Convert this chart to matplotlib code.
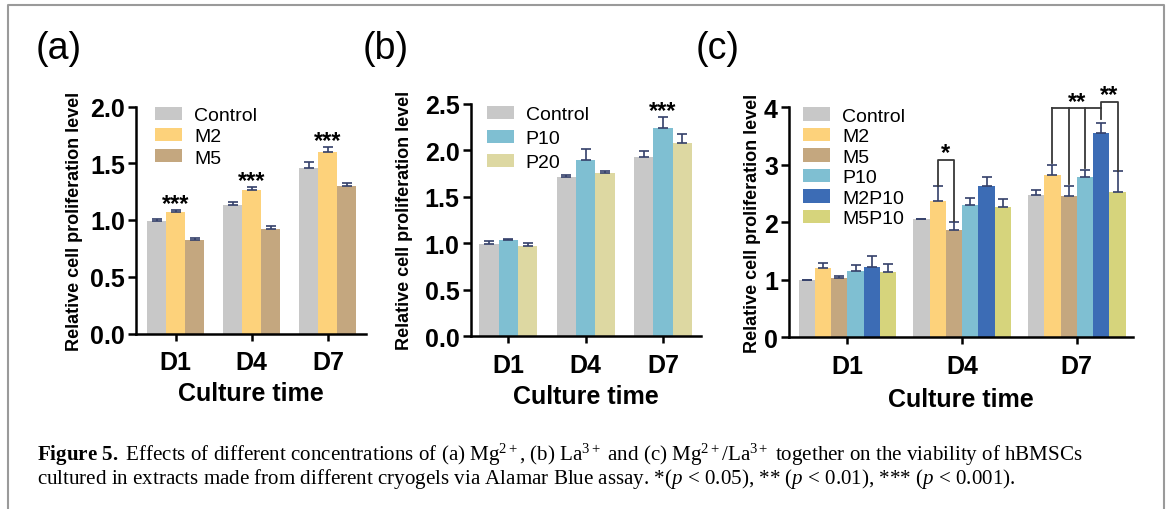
import numpy as np
import matplotlib.pyplot as plt
from matplotlib.lines import Line2D

plt.rcParams['font.family'] = 'Liberation Sans'
plt.rcParams['mathtext.fontset'] = 'custom'
plt.rcParams['mathtext.rm'] = 'Liberation Serif'
plt.rcParams['mathtext.it'] = 'Liberation Serif:italic'
plt.rcParams['mathtext.bf'] = 'Liberation Serif:bold'

days = ['D1', 'D4', 'D7']

# (a) Mg2+
a_names = ['Control', 'M2', 'M5']
a_mean = [[0.99, 1.13, 1.46], [1.07, 1.26, 1.60], [0.82, 0.92, 1.30]]
a_err = [[0.015, 0.03, 0.05], [0.015, 0.027, 0.04], [0.018, 0.027, 0.027]]
a_colors = ['#c8c8c8', '#fdd27b', '#c4a77f']
a_stars = ['***', '***', '***']   # over M2

# (b) La3+
b_names = ['Control', 'P10', 'P20']
b_mean = [[0.99, 1.71, 1.93], [1.03, 1.89, 2.24], [0.97, 1.75, 2.08]]
b_err = [[0.035, 0.02, 0.06], [0.02, 0.12, 0.11], [0.035, 0.02, 0.09]]
b_colors = ['#c8c8c8', '#7fbfd2', '#ddd8a2']
b_stars = ['', '', '***']          # over P10

# (c) Mg2+/La3+
c_names = ['Control', 'M2', 'M5', 'P10', 'M2P10', 'M5P10']
c_mean = [[1.00, 2.05, 2.47], [1.20, 2.37, 2.82], [1.03, 1.86, 2.46],
          [1.16, 2.30, 2.78], [1.23, 2.63, 3.56], [1.13, 2.27, 2.53]]
c_err = [[0.0, 0.015, 0.10], [0.09, 0.27, 0.18], [0.03, 0.145, 0.18],
         [0.10, 0.13, 0.13], [0.185, 0.16, 0.17], [0.15, 0.14, 0.36]]
c_colors = ['#c8c8c8', '#fdd27b', '#c4a77f', '#7fbfd2', '#3c6cb5', '#d6d47c']

W, H = 1168, 510
fig = plt.figure(figsize=(W / 100, H / 100), dpi=100)
ecol = '#34406a'


def px_axes(left, right, top, bottom):
    return fig.add_axes([left / W, 1 - bottom / H, (right - left) / W, (bottom - top) / H])


def draw_panel(ax, names, means, errs, colors, width, ymax, ystep, fmt, xlim):
    n = len(names)
    x = np.arange(len(days))
    xs_all = []
    for i in range(n):
        xs = x + (i - (n - 1) / 2) * width
        xs_all.append(xs)
        ax.bar(xs, means[i], width, color=colors[i], label=names[i], zorder=2)
        ax.errorbar(xs, means[i], yerr=[np.zeros(3), errs[i]], fmt='none', ecolor=ecol,
                    elinewidth=1.2, capsize=3.5, capthick=1.2, zorder=3)
    ax.set_xlim(*xlim)
    ax.set_ylim(0, ymax)
    ax.set_yticks(np.arange(0, ymax + 1e-9, ystep))
    ax.set_yticklabels([fmt.format(v) for v in np.arange(0, ymax + 1e-9, ystep)])
    ax.set_xticks(x)
    ax.set_xticklabels(days)
    for s in ['top', 'right']:
        ax.spines[s].set_visible(False)
    for s in ['left', 'bottom']:
        ax.spines[s].set_linewidth(1.8)
    ax.spines['left'].set_bounds(0, ymax)
    ax.tick_params(axis='y', length=5.5, width=1.8, pad=2.5, labelsize=18)
    ax.tick_params(axis='x', length=5, width=1.8, pad=7, labelsize=18)
    for lab in ax.get_xticklabels() + ax.get_yticklabels():
        lab.set_fontweight('bold')
    ax.set_ylabel('Relative cell proliferation level', fontsize=13, fontweight='bold')
    ax.set_xlabel('Culture time', fontsize=18, fontweight='bold')
    ax.patch.set_alpha(0)
    return xs_all


def add_legend(ax, x, y, spacing):
    ax.legend(loc='upper left', bbox_to_anchor=(x, y), frameon=False, fontsize=14,
              handlelength=1.4, handleheight=0.67, handletextpad=0.6,
              labelspacing=spacing, borderpad=0, borderaxespad=0)


def star(ax, x, y, s):
    ax.annotate(s, xy=(x, y), xytext=(0, 0.6), textcoords='offset points', ha='center',
                va='baseline', fontsize=17, fontweight='bold', annotation_clip=False)


# panel (a)
ax_a = px_axes(136, 366, 107.5, 334.5)
xs = draw_panel(ax_a, a_names, a_mean, a_err, a_colors, 0.25, 2.0, 0.5, '{:.1f}', (-0.52, 2.5))
for j, s in enumerate(a_stars):
    if s:
        star(ax_a, xs[1][j], a_mean[1][j] + a_err[1][j], s)
add_legend(ax_a, 0.083, 1.0, 0.2)
ax_a.yaxis.set_label_coords(-0.23, 0.5)
ax_a.xaxis.set_label_coords(0.5, -0.21)

# panel (b)
ax_b = px_axes(470.5, 701, 104.5, 337.3)
xs = draw_panel(ax_b, b_names, b_mean, b_err, b_colors, 0.25, 2.5, 0.5, '{:.1f}', (-0.49, 2.49))
for j, s in enumerate(b_stars):
    if s:
        star(ax_b, xs[1][j], b_mean[1][j] + b_err[1][j], s)
add_legend(ax_b, 0.07, 0.99, 0.33)
ax_b.yaxis.set_label_coords(-0.249, 0.5)
ax_b.xaxis.set_label_coords(0.5, -0.205)

# panel (c)
ax_c = px_axes(789, 1133, 108.3, 338.3)
xs = draw_panel(ax_c, c_names, c_mean, c_err, c_colors, 0.142, 4, 1, '{:.0f}', (-0.51, 2.49))
add_legend(ax_c, 0.041, 1.0, 0.16)
ax_c.yaxis.set_label_coords(-0.081, 0.5)
ax_c.xaxis.set_label_coords(0.5, -0.215)


def cap(i, j):
    return c_mean[i][j] + c_err[i][j]


bk = dict(color='#383838', lw=1.3, clip_on=False, zorder=4)
# D4: M2 vs M5
lvl = 3.09
ax_c.plot([xs[1][1], xs[1][1], xs[2][1], xs[2][1]], [cap(1, 1), lvl, lvl, cap(2, 1) + 0.02], **bk)
star(ax_c, (xs[1][1] + xs[2][1]) / 2, lvl, '*')
# D7: M2, M5, P10 vs M2P10
lvl = 3.98
ax_c.plot([xs[1][2], xs[4][2]], [lvl, lvl], **bk)
for i in [1, 2, 3]:
    ax_c.plot([xs[i][2], xs[i][2]], [lvl, cap(i, 2) + 0.03], **bk)
ax_c.plot([xs[4][2], xs[4][2]], [lvl, cap(4, 2) + 0.07], **bk)
star(ax_c, (xs[1][2] + xs[4][2]) / 2, lvl, '**')
# D7: M2P10 vs M5P10
lvl2 = 4.10
ax_c.plot([xs[4][2], xs[4][2], xs[5][2], xs[5][2]], [lvl, lvl2, lvl2, cap(5, 2) + 0.01], **bk)
star(ax_c, (xs[4][2] + xs[5][2]) / 2, lvl2, '**')

# panel letters
for xp, lab in [(36, '(a)'), (363, '(b)'), (696, '(c)')]:
    fig.text(xp / W, 1 - 49 / H, lab, fontsize=27, ha='left', va='center')

# frame
fc = '#9a9a9a'
fig.add_artist(Line2D([8 / W, 8 / W, 1164 / W, 1164 / W], [0, 1 - 6 / H, 1 - 6 / H, 0],
                      transform=fig.transFigure, color=fc, lw=1.5))

# caption (one text, two lines)
caption = (r'$\mathbf{Figure\ 5.}$ Effects of different concentrations of (a) Mg$^{2+}$, (b) La$^{3+}$ '
           r'and (c) Mg$^{2+}$/La$^{3+}$ together on the viability of hBMSCs' '\n'
           r'cultured in extracts made from different cryogels via Alamar Blue assay. *($p$ < 0.05), '
           r'** ($p$ < 0.01), *** ($p$ < 0.001).')
fig.text(37 / W, 1 - 466 / H, caption, fontsize=15.1, family='Liberation Serif',
         ha='left', va='center', linespacing=0.95)

fig.savefig('out.png', dpi=100, facecolor='white')
